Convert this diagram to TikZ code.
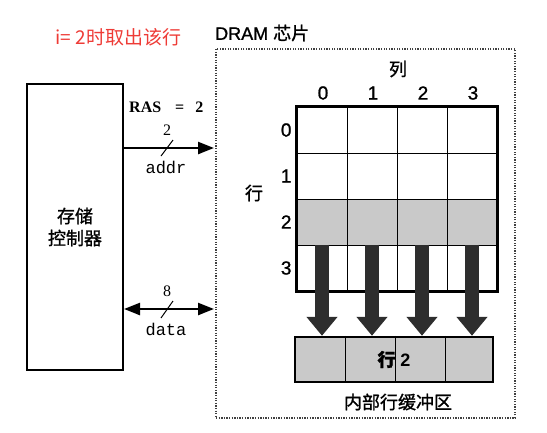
\documentclass[tikz,border=0pt]{standalone}
\usepackage{fontspec}
\setmainfont{Liberation Sans}
\setmonofont{Liberation Mono}
\newfontfamily\cjk{Noto Sans CJK SC}
\newfontfamily\cjkbold[FakeBold=1.2]{Noto Sans CJK SC}
\newfontfamily\rasfont{Liberation Serif}
\newfontfamily\digitfont[FakeBold=1]{Liberation Sans}
\usetikzlibrary{arrows.meta}
\definecolor{rowgray}{HTML}{C9C9C9}
\definecolor{notered}{HTML}{EE3B36}
\tikzset{
  cell/.style={draw, line width=0.8pt, minimum width=50pt, minimum height=46pt, inner sep=0pt},
  idx/.style={font=\digitfont\fontsize{19}{19}\selectfont},
  hz/.style={font=\cjkbold\fontsize{18}{22}\selectfont},
  bus/.style={line width=2.4pt},
  pull/.style={line width=14pt, draw=black!82, -{Triangle[width=30pt,length=19pt]}},
}
\begin{document}
\begin{tikzpicture}[x=1pt, y=-1pt, >={Triangle[width=12pt,length=16pt]}]
\useasboundingbox (0,0) rectangle (547,432);
\node[font=\cjk\fontsize{19}{19}\selectfont, text=notered, anchor=west] (note) at (52,37) {i= 2时取出该行};

% memory controller
\node[draw, line width=2pt, minimum width=96pt, minimum height=286pt, align=center, hz] (ctrl) at (75,227) {存储\\控制器};

% chip outline
\node[draw=black!75, line width=1.5pt, dash pattern=on 1.3pt off 1.3pt, minimum width=299pt, minimum height=369pt] (chip) at (365.5,233.5) {};
\node[font=\digitfont\fontsize{18}{18}\selectfont, anchor=west, inner sep=0pt] (chipname) at (215,33) {DRAM {\cjkbold 芯片}};

% buses
\coordinate (addrEnd) at (214,148);
\coordinate (dataEnd) at (214,309);
\draw[bus, ->] (ctrl.east |- addrEnd) -- (addrEnd);
\draw[bus, <->] (ctrl.east |- dataEnd) -- (dataEnd);
\node[font=\rasfont\bfseries\fontsize{16}{16}\selectfont, anchor=west, inner sep=0pt] (ras) at (129,107) {RAS\hspace{14pt}=\hspace{11pt}2};
\node[font=\rasfont\fontsize{16}{16}\selectfont] (addrw) at (167,130) {2};
\node[font=\ttfamily\fontsize{17}{17}\selectfont] (addr) at (166,167) {addr};
\node[font=\rasfont\fontsize{16}{16}\selectfont] (dataw) at (167,291) {8};
\node[font=\ttfamily\fontsize{17}{17}\selectfont] (data) at (166,329) {data};
\draw[line width=1pt] (161,156) -- (173,140);
\draw[line width=1pt] (161,318) -- (173,301);

% cell array
\foreach \r/\col in {0/white,1/white,2/rowgray,3/white}
  \foreach \c in {0,...,3}
    \node[cell, fill=\col] (c-\r-\c) at ({322+50*\c},{130+46*\r}) {};
\draw[line width=2.4pt] (c-0-0.north west) rectangle (c-3-3.south east);
\foreach \c in {0,...,3}
  \node[idx] (col\c) at ({323+50*\c},93) {\c};
\foreach \r in {0,...,3}
  \node[idx, anchor=east] (row\r) at (295,{130+46*\r}) {\r};
\node[hz] (collbl) at (398,69) {列};
\node[hz] (rowlbl) at (254,193) {行};

% row buffer
\node[draw, line width=2.4pt, fill=rowgray, minimum width=198pt, minimum height=45pt, inner sep=0pt, font=\bfseries\fontsize{18}{18}\selectfont] (buf) at (394,359.5) {{\cjkbold 行}\hspace{5pt}2};
\foreach \d in {52,102,152}
  \draw[line width=0.8pt] ([xshift=\d pt]buf.north west) -- ([xshift=\d pt]buf.south west);
\node[hz] (buflbl) at (398,402) {内部行缓冲区};

% row 2 moves into the buffer
\foreach \c in {0,...,3}
  \draw[pull] (c-3-\c.north) -- (c-3-\c.north |- buf.north);
\end{tikzpicture}
\end{document}
